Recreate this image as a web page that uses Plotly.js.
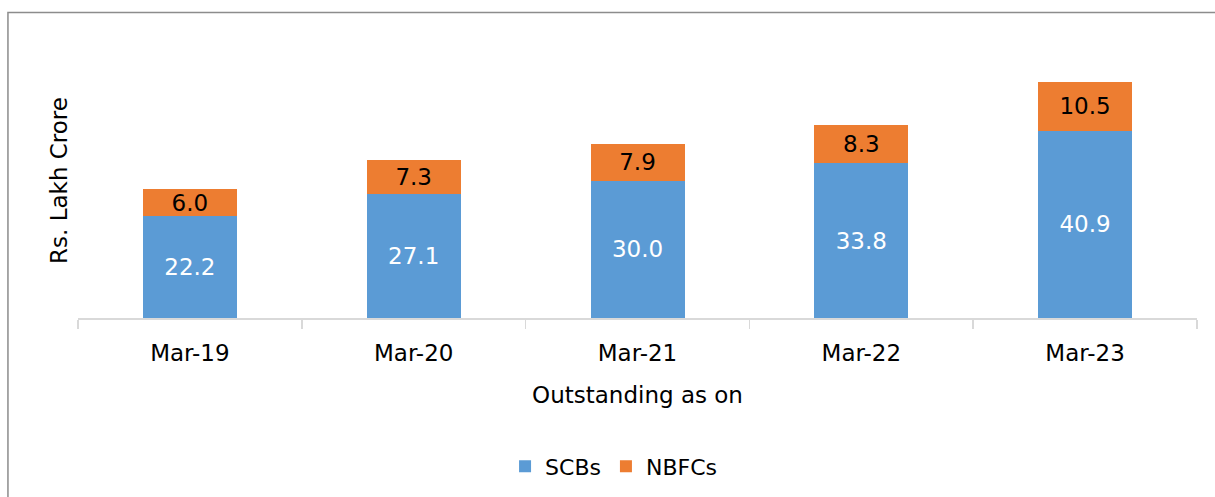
<!DOCTYPE html>
<html>
<head>
<meta charset="utf-8">
<script src="https://cdn.plot.ly/plotly-3.0.1.min.js"></script>
<style>html,body{margin:0;padding:0;background:#fff;}#chart{width:1215px;height:497px;}</style>
</head>
<body>
<div id="chart"></div>
<script>
const categories = ["Mar-19", "Mar-20", "Mar-21", "Mar-22", "Mar-23"];
const scbs = [22.2, 27.1, 30.0, 33.8, 40.9];
const nbfcs = [6.0, 7.3, 7.9, 8.3, 10.5];

const FONT = "DejaVu Sans";
const traces = [
  {
    type: "bar", name: "SCBs", x: categories, y: scbs,
    marker: {color: "#5B9BD5", line: {width: 0}},
    text: scbs.map(v => v.toFixed(1)), textposition: "inside", insidetextanchor: "middle",
    constraintext: "none",
    textfont: {family: FONT, size: 23, color: "#ffffff"},
    hoverinfo: "skip"
  },
  {
    type: "bar", name: "NBFCs", x: categories, y: nbfcs,
    marker: {color: "#ED7D31", line: {width: 0}},
    text: nbfcs.map(v => v.toFixed(1)), textposition: "inside", insidetextanchor: "middle",
    constraintext: "none",
    textfont: {family: FONT, size: 23, color: "#000000"},
    hoverinfo: "skip"
  }
];

const layout = {
  width: 1215, height: 497,
  margin: {l: 78, r: 18, t: 43, b: 179, autoexpand: false},
  barmode: "stack", bargap: 0.58,
  paper_bgcolor: "#ffffff", plot_bgcolor: "#ffffff",
  font: {family: FONT, size: 23, color: "#000000"},
  showlegend: true,
  legend: {orientation: "h", x: 0.4786, xanchor: "center", y: -0.54, yanchor: "middle",
           font: {family: FONT, size: 22, color: "#000000"}, traceorder: "normal", itemwidth: 30},
  xaxis: {
    type: "category", automargin: false,
    showline: true, linecolor: "#d9d9d9", linewidth: 1.5,
    ticks: "outside", tickson: "boundaries", ticklen: 9, tickcolor: "#d9d9d9", tickwidth: 1.5,
    ticklabelstandoff: 14,
    tickfont: {family: FONT, size: 23, color: "#000000"},
    showgrid: false, zeroline: false, fixedrange: true,
    title: {text: "Outstanding as on", font: {family: FONT, size: 23, color: "#000000"}, standoff: 22}
  },
  yaxis: {
    range: [0, 60], automargin: false,
    showline: false, showticklabels: false, ticks: "", showgrid: false, zeroline: false, fixedrange: true,
    title: {text: "Rs. Lakh Crore", font: {family: FONT, size: 23, color: "#000000"}, standoff: 2}
  },
  shapes: [{
    type: "rect", xref: "paper", yref: "paper",
    x0: -0.0626, x1: 1.03, y0: -0.7, y1: 1.1109,
    line: {color: "#8c8c8c", width: 1.5}, fillcolor: "rgba(0,0,0,0)", layer: "below"
  }]
};

Plotly.newPlot("chart", traces, layout, {staticPlot: true, displayModeBar: false});
</script>
</body>
</html>
